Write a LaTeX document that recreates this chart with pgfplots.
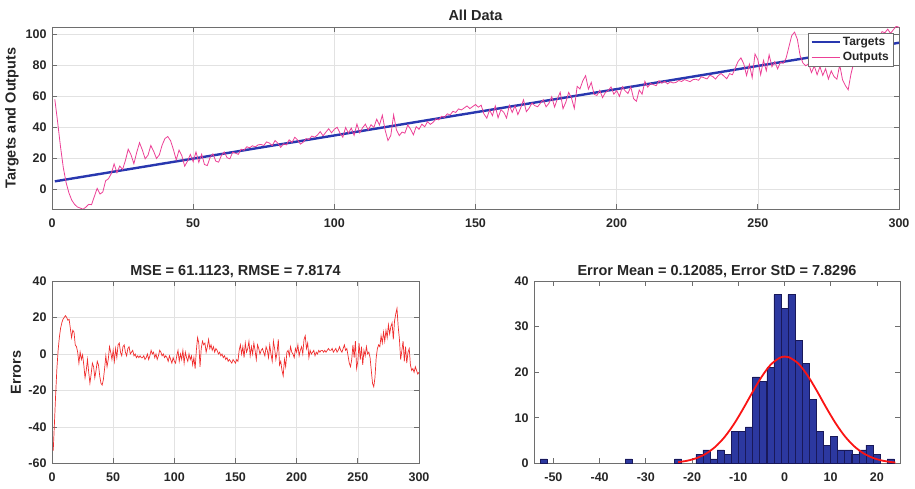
\documentclass[border=0pt]{standalone}
\usepackage{pgfplots}
\pgfplotsset{compat=1.18}
\usepackage{pgfplotstable}
\usepackage{fontspec}
\setmainfont{Liberation Sans}

\definecolor{tgt}{RGB}{40,55,175}
\definecolor{outc}{RGB}{236,64,150}
\definecolor{errc}{RGB}{240,45,45}
\definecolor{fitc}{RGB}{250,20,20}
\definecolor{barc}{RGB}{44,56,160}
\definecolor{baredge}{RGB}{25,25,90}
\definecolor{axc}{RGB}{110,110,110}
\definecolor{txc}{RGB}{38,38,38}
\definecolor{gridc}{RGB}{226,226,226}

\pgfplotstableread{
x t o e
1 5.0 58.0 -53
2 5.3 43.3 -38
3 5.6 27.6 -22
4 5.9 13.9 -8
5 6.2 4.2 2
6 6.5 -2.5 9
7 6.8 -7.2 14
8 7.1 -9.9 17
9 7.4 -11.6 19
10 7.7 -12.3 20
11 8.0 -13.0 21
12 8.3 -11.7 20
13 8.6 -9.9 18.5
14 8.9 -10.1 19
15 9.2 -4.8 14
16 9.5 0.5 9
17 9.8 -3.2 13
18 10.1 -1.9 12
19 10.4 5.4 5
20 10.7 6.7 4
21 11.0 10.0 1
22 11.3 16.3 -5
23 11.6 10.6 1
24 11.9 14.9 -3
25 12.2 12.7 -0.5
26 12.5 18.5 -6
27 12.8 25.8 -13
28 13.1 22.1 -9
29 13.4 16.4 -3
30 13.7 23.7 -10
31 14.0 30.0 -16
32 14.3 25.3 -11
33 14.6 19.6 -5
34 14.9 21.9 -7
35 15.2 28.2 -13
36 15.5 24.5 -9
37 15.8 19.8 -4
38 16.1 22.1 -6
39 16.4 28.4 -12
40 16.7 32.7 -16
41 17.0 34.0 -17
42 17.3 31.3 -14
43 17.6 25.6 -8
44 17.9 18.9 -1
45 18.2 25.2 -7
46 18.5 21.5 -3
47 18.8 14.8 4
48 19.1 18.1 1
49 19.4 22.4 -3
50 19.7 17.7 2
51 20.0 24.0 -4
52 20.3 17.3 3
53 20.6 22.6 -2
54 20.9 15.9 5
55 21.2 15.2 6
56 21.5 20.5 1
57 21.8 22.8 -1
58 22.1 18.1 4
59 22.4 17.4 5
60 22.7 21.7 1
61 23.0 24.0 -1
62 23.3 20.3 3
63 23.6 19.6 4
64 23.9 23.9 0
65 24.2 23.2 1
66 24.5 22.5 2
67 24.8 25.8 -1
68 25.1 25.1 0
69 25.4 27.4 -2
70 25.7 26.7 -1
71 26.0 28.0 -2
72 26.3 27.3 -1
73 26.6 28.6 -2
74 26.9 28.9 -2
75 27.2 28.2 -1
76 27.5 30.5 -3
77 27.8 29.8 -2
78 28.1 28.1 0
79 28.4 31.4 -3
80 28.7 29.7 -1
81 29.0 27.0 2
82 29.3 29.3 0
83 29.6 28.6 1
84 29.9 31.9 -2
85 30.2 30.2 0
86 30.5 33.5 -3
87 30.8 31.8 -1
88 31.1 29.1 2
89 31.4 30.4 1
90 31.7 32.7 -1
91 32.0 32.0 0
92 32.3 34.3 -2
93 32.6 33.6 -1
94 32.9 34.9 -2
95 33.2 37.2 -4
96 33.5 34.5 -1
97 33.8 36.8 -3
98 34.1 39.1 -5
99 34.4 36.4 -2
100 34.7 38.7 -4
101 35.0 40.0 -5
102 35.3 36.3 -1
103 35.6 33.6 2
104 35.9 39.9 -4
105 36.2 36.2 0
106 36.5 39.5 -3
107 36.8 34.8 2
108 37.1 42.1 -5
109 37.4 36.4 1
110 37.7 39.7 -2
111 38.0 42.0 -4
112 38.3 38.3 0
113 38.6 41.6 -3
114 38.9 39.9 -1
115 39.2 45.2 -6
116 39.5 41.5 -2
117 39.8 47.8 -8
118 40.1 38.1 2
119 40.4 31.4 9
120 40.7 34.7 6
121 41.0 48.0 -7
122 41.3 38.3 3
123 41.6 34.6 7
124 41.9 36.9 5
125 42.2 36.2 6
126 42.5 41.5 1
127 42.8 38.8 4
128 43.1 35.1 8
129 43.4 40.4 3
130 43.7 38.7 5
131 44.0 42.0 2
132 44.3 40.3 4
133 44.6 43.6 1
134 44.9 41.9 3
135 45.2 43.2 2
136 45.5 45.5 0
137 45.8 44.8 1
138 46.1 47.1 -1
139 46.4 46.4 0
140 46.7 48.7 -2
141 47.0 48.0 -1
142 47.3 50.3 -3
143 47.6 49.6 -2
144 47.9 51.9 -4
145 48.2 51.2 -3
146 48.5 52.5 -4
147 48.8 53.8 -5
148 49.1 52.1 -3
149 49.4 53.4 -4
150 49.7 54.7 -5
151 50.0 53.0 -3
152 50.3 54.3 -4
153 50.6 48.6 2
154 50.9 45.9 5
155 51.2 51.2 0
156 51.5 47.5 4
157 51.8 53.8 -2
158 52.1 46.1 6
159 52.4 51.4 1
160 52.7 49.7 3
161 53.0 46.0 7
162 53.3 54.3 -1
163 53.6 49.6 4
164 53.9 53.9 0
165 54.2 48.2 6
166 54.5 52.5 2
167 54.8 57.8 -3
168 55.1 50.1 5
169 55.4 52.4 3
170 55.7 55.7 0
171 56.0 54.0 2
172 56.3 53.3 3
173 56.6 55.6 1
174 56.9 57.9 -1
175 57.2 53.2 4
176 57.5 55.5 2
177 57.8 59.8 -2
178 58.1 53.1 5
179 58.4 58.4 0
180 58.7 62.7 -4
181 59.0 52.0 7
182 59.3 56.3 3
183 59.6 62.6 -3
184 59.9 58.9 1
185 60.2 52.2 8
186 60.5 66.5 -6
187 60.8 64.8 -4
188 61.1 70.1 -9
189 61.4 73.4 -12
190 61.7 64.7 -3
191 62.0 69.0 -7
192 62.3 61.3 1
193 62.6 60.6 2
194 62.9 63.9 -1
195 63.2 59.2 4
196 63.5 62.5 1
197 63.8 63.8 0
198 64.1 66.1 -2
199 64.4 61.4 3
200 64.7 63.7 1
201 65.0 60.0 5
202 65.3 66.3 -1
203 65.6 63.6 2
204 65.9 61.9 4
205 66.2 66.2 0
206 66.5 58.5 8
207 66.8 56.8 10
208 67.1 64.1 3
209 67.4 61.4 6
210 67.7 69.7 -2
211 68.0 66.0 2
212 68.3 68.3 0
213 68.6 67.6 1
214 68.9 66.9 2
215 69.2 70.2 -1
216 69.5 68.5 1
217 69.8 69.8 0
218 70.1 68.1 2
219 70.4 69.4 1
220 70.7 68.7 2
221 71.0 69.0 2
222 71.3 70.3 1
223 71.6 69.6 2
224 71.9 70.9 1
225 72.2 70.2 2
226 72.5 69.5 3
227 72.8 70.8 2
228 73.1 71.1 2
229 73.4 70.4 3
230 73.7 72.7 1
231 74.0 72.0 2
232 74.3 71.3 3
233 74.6 73.6 1
234 74.9 72.9 2
235 75.2 71.2 4
236 75.5 73.5 2
237 75.8 74.8 1
238 76.1 73.1 3
239 76.4 71.4 5
240 76.7 74.7 2
241 77.0 74.0 3
242 77.3 78.3 -1
243 77.6 82.6 -5
244 77.9 84.9 -7
245 78.2 81.2 -3
246 78.5 73.5 5
247 78.8 80.8 -2
248 79.1 72.1 7
249 79.4 87.4 -8
250 79.7 83.7 -4
251 80.0 74.0 6
252 80.3 83.3 -3
253 80.6 76.6 4
254 80.9 86.9 -6
255 81.2 79.2 2
256 81.5 82.5 -1
257 81.8 77.8 4
258 82.1 82.1 0
259 82.4 81.4 1
260 82.7 84.7 -2
261 83.0 92.0 -9
262 83.3 99.3 -16
263 83.6 101.6 -18
264 83.9 96.9 -13
265 84.2 86.2 -2
266 84.5 81.5 3
267 84.8 79.8 5
268 85.1 81.1 4
269 85.4 75.4 10
270 85.7 79.7 6
271 86.0 74.0 12
272 86.3 79.3 7
273 86.6 73.6 13
274 86.9 77.9 9
275 87.2 71.2 16
276 87.5 76.5 11
277 87.8 72.8 15
278 88.1 71.1 17
279 88.4 80.4 8
280 88.7 70.7 18
281 89.0 67.0 22
282 89.3 64.3 25
283 89.6 74.6 15
284 89.9 81.9 8
285 90.2 93.2 -3
286 90.5 88.5 2
287 90.8 83.8 7
288 91.1 95.1 -4
289 91.4 87.4 4
290 91.7 96.7 -5
291 92.0 91.0 1
292 92.3 89.3 3
293 92.6 98.6 -6
294 92.9 101.9 -9
295 93.2 101.2 -8
296 93.5 103.5 -10
297 93.8 100.8 -7
298 94.1 103.1 -9
299 94.4 105.4 -11
300 94.7 104.7 -10
}\datatab

\pgfplotsset{mstyle/.style={
  scale only axis,
  anchor=north west,
  axis line style={axc, line width=0.8pt},
  tick style={axc, line width=0.8pt},
  major tick length=5pt,
  tick align=inside,
  tick label style={font=\bfseries\fontsize{12.5}{12.5}\selectfont, text=txc},
  xticklabel style={yshift=-6pt},
  yticklabel style={xshift=-2pt},
  /pgf/number format/assume math mode=true,
  every axis title shift=0pt,
  title style={font=\bfseries\fontsize{14.5}{14.5}\selectfont, text=txc, at={(0.5,1)}, anchor=base, yshift=6pt},
  label style={font=\bfseries\fontsize{14.5}{14.5}\selectfont, text=txc},
  grid style={gridc, line width=0.6pt},
  legend cell align=left,
}}

\begin{document}
\begin{tikzpicture}
\path[use as bounding box] (0pt,0pt) rectangle (915pt,-489pt);

% ---------- All Data ----------
\begin{axis}[mstyle, at={(52pt,-27pt)}, width=847pt, height=182pt,
  xmin=0, xmax=300, ymin=-12.9, ymax=104.9,
  xtick={0,50,...,300}, ytick={0,20,...,100}, grid=major,
  title={All Data}, ylabel={Targets and Outputs},
  ylabel style={at={(axis description cs:-0.0472,0.5)}, anchor=center},
  legend style={at={(1,1)}, anchor=north east, xshift=-6pt, yshift=-6pt,
    draw=axc, fill=white, font=\bfseries\fontsize{12}{12}\selectfont, text=txc,
    inner sep=2pt, row sep=1.5pt},
  legend image code/.code={\draw[#1] (0pt,0pt) -- (28pt,0pt);}]
\addplot[tgt, line width=2.4pt] table[x=x, y=t]{\datatab};
\addplot[outc, line width=0.8pt] table[x=x, y=o]{\datatab};
\legend{Targets,Outputs}
\end{axis}

% ---------- Errors ----------
\begin{axis}[mstyle, at={(52pt,-281pt)}, width=367pt, height=182.5pt,
  xmin=0, xmax=300, ymin=-60, ymax=40,
  xtick={0,50,...,300}, ytick={-60,-40,...,40}, grid=major,
  title={MSE = 61.1123, RMSE = 7.8174}, ylabel={Errors},
  ylabel style={at={(axis description cs:-0.098,0.5)}, anchor=center}]
\addplot[errc, line width=0.7pt] table[x=x, y=e]{\datatab};
\end{axis}

% ---------- Histogram ----------
\begin{axis}[mstyle, at={(534pt,-281pt)}, width=366pt, height=182.5pt,
  xmin=-54.2, xmax=25, ymin=0, ymax=40,
  xtick={-50,-40,...,20}, ytick={0,10,...,40},
  title={Error Mean = 0.12085, Error StD = 7.8296}]
\addplot[ybar, bar width=1.533, fill=barc, draw=baredge, line width=0.5pt] coordinates {
(-52.13,1) (-33.73,1) (-23.00,1) (-18.40,2) (-16.87,3) (-15.34,1) (-13.81,3)
(-12.27,2) (-10.74,7) (-9.21,7) (-7.67,8) (-6.14,19) (-4.61,18) (-3.07,21)
(-1.54,37) (-0.01,34) (1.52,37) (3.06,27) (4.59,22) (6.12,14) (7.66,7)
(9.19,4) (10.72,6) (12.26,3) (13.79,3) (15.32,2) (16.86,3) (18.39,4)
(19.92,2) (22.99,1)};
\addplot[fitc, line width=1.8pt, smooth] coordinates {
(-23,0.30) (-21,0.62) (-19,1.19) (-17,2.15) (-15,3.63) (-13,5.75) (-11,8.54)
(-9,11.89) (-7,15.50) (-5,18.92) (-3,21.64) (-1,23.19) (0.12,23.43) (1,23.28)
(3,21.90) (5,19.29) (7,15.93) (9,12.31) (11,8.92) (13,6.05) (15,3.85)
(17,2.29) (19,1.28) (21,0.67) (23,0.33) (24,0.22)};
\end{axis}
\end{tikzpicture}
\end{document}
